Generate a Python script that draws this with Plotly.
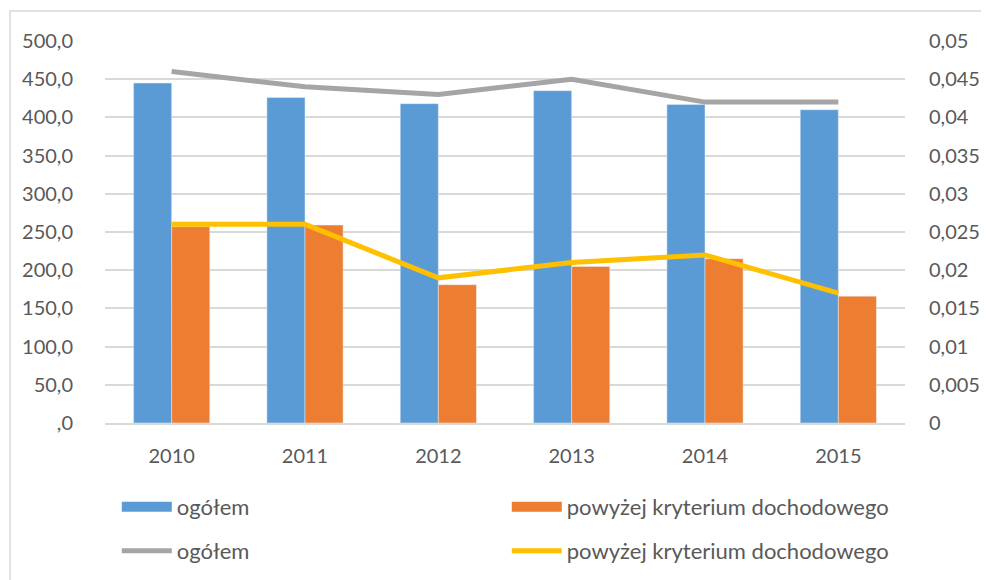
import plotly.graph_objects as go

YEARS = ['2010', '2011', '2012', '2013', '2014', '2015']

# bars (left axis)
ogolem_bar = [445, 426, 418, 435, 417, 410]
powyzej_bar = [257, 259, 181, 205, 215, 166]

# lines (right axis)
ogolem_line = [0.046, 0.044, 0.043, 0.045, 0.042, 0.042]
powyzej_line = [0.026, 0.026, 0.019, 0.021, 0.022, 0.017]

LEFT_VALS = [0, 50, 100, 150, 200, 250, 300, 350, 400, 450, 500]
LEFT_TEXT = [',0', '50,0', '100,0', '150,0', '200,0', '250,0',
             '300,0', '350,0', '400,0', '450,0', '500,0']
RIGHT_VALS = [0, 0.005, 0.01, 0.015, 0.02, 0.025, 0.03, 0.035, 0.04, 0.045, 0.05]
RIGHT_TEXT = ['0', '0,005', '0,01', '0,015', '0,02', '0,025',
              '0,03', '0,035', '0,04', '0,045', '0,05']

FONT = 'Lato'
TXT = '#595959'
GRID = '#d9d9d9'
BLUE, ORANGE, GRAY, YELLOW = '#5b9bd5', '#ed7d31', '#a5a5a5', '#ffc000'

fig = go.Figure()
fig.add_trace(go.Bar(x=YEARS, y=ogolem_bar, name='ogółem',
                     marker=dict(color=BLUE), showlegend=False))
fig.add_trace(go.Bar(x=YEARS, y=powyzej_bar, name='powyżej kryterium dochodowego',
                     marker=dict(color=ORANGE), showlegend=False))
fig.add_trace(go.Scatter(x=YEARS, y=ogolem_line, name='ogółem', yaxis='y2',
                         mode='lines', line=dict(color=GRAY, width=5),
                         legend='legend2'))
fig.add_trace(go.Scatter(x=YEARS, y=powyzej_line, name='powyżej kryterium dochodowego',
                         yaxis='y2', mode='lines',
                         line=dict(color=YELLOW, width=5), legend='legend2'))

# legend swatches for the bar series (wide rectangles like the original)
for nm, col in [('ogółem', BLUE), ('powyżej kryterium dochodowego', ORANGE)]:
    fig.add_trace(go.Scatter(x=[None], y=[None], name=nm, mode='lines',
                             line=dict(color=col, width=14), legend='legend',
                             hoverinfo='skip'))

legend_common = dict(orientation='h', xanchor='left', yanchor='middle',
                     xref='container', yref='container', x=0.110,
                     entrywidth=325, entrywidthmode='pixels', itemwidth=50,
                     font=dict(family=FONT, size=22, color=TXT),
                     bgcolor='rgba(0,0,0,0)', itemclick=False)

# page body has an 8px margin, so the layout is offset by that amount
fig.update_layout(
    width=989, height=580,
    margin=dict(l=97, r=92, t=33, b=165),
    paper_bgcolor='white', plot_bgcolor='white',
    font=dict(family=FONT, size=20, color=TXT),
    barmode='group', bargap=0.4286, bargroupgap=0,
    xaxis=dict(showgrid=False, showline=True, linecolor=GRID, linewidth=1.5,
               ticks='', ticklabelstandoff=14, automargin=False,
               tickfont=dict(family=FONT, size=20, color=TXT)),
    yaxis=dict(range=[0, 500], tickmode='array', tickvals=LEFT_VALS,
               ticktext=LEFT_TEXT, showgrid=True, gridcolor=GRID, gridwidth=1.5,
               zeroline=False, showline=False, ticks='', ticklabelstandoff=31,
               automargin=False, tickfont=dict(family=FONT, size=20, color=TXT)),
    yaxis2=dict(range=[0, 0.05], overlaying='y', side='right', tickmode='array',
                tickvals=RIGHT_VALS, ticktext=RIGHT_TEXT, showgrid=False,
                zeroline=False, showline=False, ticks='', ticklabelstandoff=23,
                automargin=False, tickfont=dict(family=FONT, size=20, color=TXT)),
    legend=dict(y=1 - 499 / 580, **legend_common),
    legend2=dict(y=1 - 543 / 580, **legend_common),
    shapes=[dict(type='rect', xref='paper', yref='paper',
                 x0=-0.11875, x1=1.3, y0=-0.6, y1=1.0785,
                 line=dict(color=GRID, width=1.5), layer='below')],
)

fig.write_html('out.html')
